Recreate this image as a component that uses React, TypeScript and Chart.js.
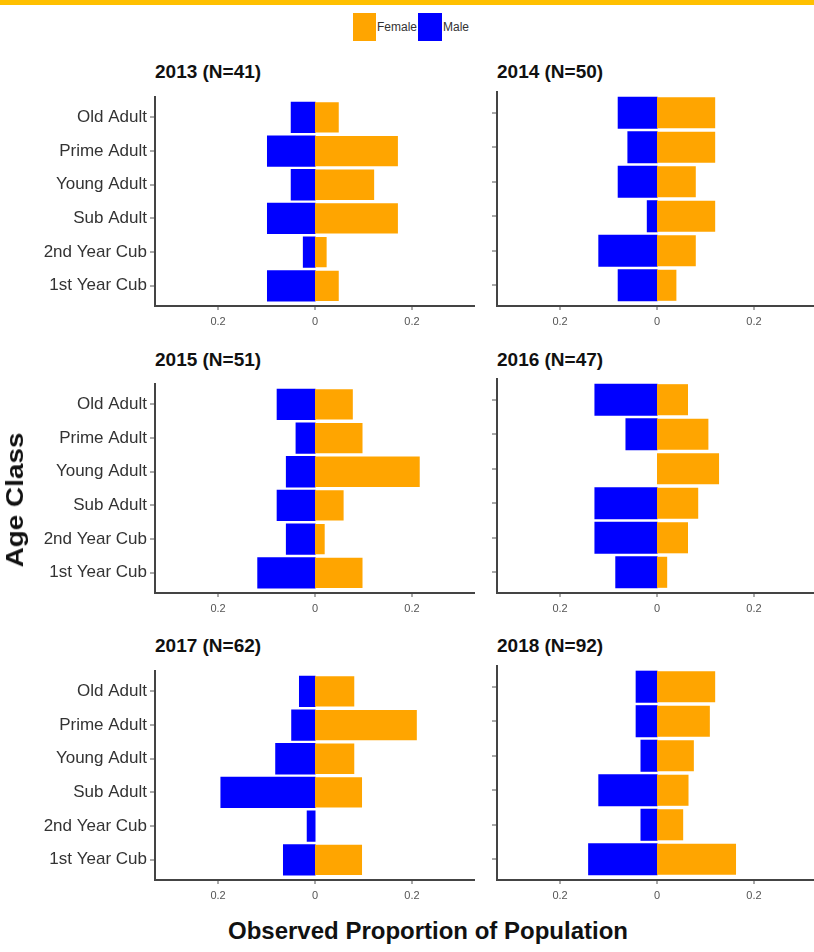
import React, { useEffect, useRef } from "react";
import { Chart, registerables } from "chart.js";

Chart.register(...registerables);

// ---------- DATA ----------
// Age classes listed from bottom (index 1) to top (index 6)
const ageClasses = ["1st Year Cub", "2nd Year Cub", "Sub Adult", "Young Adult", "Prime Adult", "Old Adult"];
const panelTitles = ["2013 (N=41)", "2014 (N=50)", "2015 (N=51)", "2016 (N=47)", "2017 (N=62)", "2018 (N=92)"];
const seriesNames = ["Female", "Male"];
const xTickValues = [-0.2, 0, 0.2];

const female2013 = [0.049, 0.024, 0.171, 0.122, 0.171, 0.049];
const male2013 = [0.098, 0.024, 0.098, 0.049, 0.098, 0.049];
const female2014 = [0.04, 0.08, 0.12, 0.08, 0.12, 0.12];
const male2014 = [0.08, 0.12, 0.02, 0.08, 0.06, 0.08];
const female2015 = [0.098, 0.02, 0.059, 0.216, 0.098, 0.078];
const male2015 = [0.118, 0.059, 0.078, 0.059, 0.039, 0.078];
const female2016 = [0.021, 0.064, 0.085, 0.128, 0.106, 0.064];
const male2016 = [0.085, 0.128, 0.128, 0, 0.064, 0.128];
const female2017 = [0.097, 0, 0.097, 0.081, 0.21, 0.081];
const male2017 = [0.065, 0.016, 0.194, 0.081, 0.048, 0.032];
const female2018 = [0.163, 0.054, 0.065, 0.076, 0.109, 0.12];
const male2018 = [0.141, 0.033, 0.12, 0.033, 0.043, 0.043];

const femaleByPanel = [female2013, female2014, female2015, female2016, female2017, female2018];
const maleByPanel = [male2013, male2014, male2015, male2016, male2017, male2018];

// ---------- STYLE ----------
const FEMALE_COLOR = "#FFA500";
const MALE_COLOR = "#0000FF";
const FONT = "'Liberation Sans', Arial, Helvetica, sans-serif";
const AXIS_COLOR = "#444444";
const TICK_COLOR = "#555555";

type PanelProps = {
  female: number[];
  male: number[];
  showLabels: boolean;
  left: number;
  top: number;
  width: number;
  axisWidth: number;
  padRight: number;
};

const CANVAS_H = 252;

function Panel({ female, male, showLabels, left, top, width, axisWidth, padRight }: PanelProps) {
  const ref = useRef<HTMLCanvasElement>(null);
  useEffect(() => {
    if (!ref.current) return;
    const chart = new Chart(ref.current, {
      type: "bar",
      data: {
        datasets: [
          {
            label: seriesNames[0],
            data: female.map((v, i) => ({ x: v, y: i + 1 })),
            backgroundColor: FEMALE_COLOR,
            borderWidth: 0,
            inflateAmount: 0,
            grouped: false,
            barPercentage: 0.9,
            categoryPercentage: 1,
          } as any,
          {
            label: seriesNames[1],
            data: male.map((v, i) => ({ x: -v, y: i + 1 })),
            backgroundColor: MALE_COLOR,
            borderWidth: 0,
            inflateAmount: (c: any) => (c.raw && c.raw.x !== 0 ? 0.5 : 0),
            grouped: false,
            barPercentage: 0.9,
            categoryPercentage: 1,
          } as any,
        ],
      },
      options: {
        indexAxis: "y",
        responsive: false,
        maintainAspectRatio: false,
        animation: false,
        layout: { padding: { top: 8, right: padRight, bottom: 0, left: 0 } },
        plugins: { legend: { display: false }, tooltip: { enabled: false }, title: { display: false } },
        scales: {
          x: {
            type: "linear",
            min: -0.33,
            max: 0.33,
            afterBuildTicks: (s: any) => {
              s.ticks = xTickValues.map((v) => ({ value: v }));
            },
            afterFit: (s: any) => {
              s.height = 30;
            },
            ticks: {
              callback: (v: any) => String(Math.abs(Number(v))),
              color: TICK_COLOR,
              font: { size: 11, family: FONT },
              padding: 5,
              maxRotation: 0,
              autoSkip: false,
            },
            grid: {
              display: true,
              drawOnChartArea: false,
              drawTicks: true,
              lineWidth: 0,
              tickLength: 4,
              tickColor: TICK_COLOR,
              tickWidth: 1,
            },
            border: { display: true, color: AXIS_COLOR, width: 2 },
          },
          y: {
            type: "linear",
            min: 0.4,
            max: 6.6,
            offset: false,
            afterBuildTicks: (s: any) => {
              s.ticks = ageClasses.map((_, i) => ({ value: i + 1 }));
            },
            afterFit: (s: any) => {
              s.width = axisWidth;
            },
            ticks: {
              display: showLabels,
              callback: (v: any) => ageClasses[Math.round(Number(v)) - 1],
              color: "#333333",
              font: { size: 17, family: FONT },
              padding: 3,
              autoSkip: false,
            },
            grid: {
              display: true,
              offset: false,
              drawOnChartArea: false,
              drawTicks: true,
              lineWidth: 0,
              tickLength: 5,
              tickColor: TICK_COLOR,
              tickWidth: 1,
            },
            border: { display: true, color: AXIS_COLOR, width: 2 },
          },
        },
      } as any,
    });
    return () => chart.destroy();
  }, []);
  return (
    <canvas
      ref={ref}
      width={width}
      height={CANVAS_H}
      style={{ position: "absolute", left, top, width, height: CANVAS_H }}
    />
  );
}

const rowPlotTops = [92, 379, 666];
const rowTitleCenters = [72, 360, 646];

export default function App() {
  return (
    <div
      style={{
        position: "fixed",
        left: 0,
        top: 0,
        width: 814,
        height: 952,
        overflow: "hidden",
        background: "#ffffff",
        fontFamily: FONT,
      }}
    >
      <div style={{ position: "absolute", left: 0, top: 0, width: 814, height: 5, background: "#FFC000" }} />

      {/* Legend */}
      <div style={{ position: "absolute", left: 353, top: 13, height: 28, display: "flex", alignItems: "center" }}>
        <div style={{ width: 23, height: 28, background: FEMALE_COLOR }} />
        <span style={{ fontSize: 12, color: "#333", padding: "0 1px" }}>{seriesNames[0]}</span>
        <div style={{ width: 24, height: 28, background: MALE_COLOR }} />
        <span style={{ fontSize: 12, color: "#333", padding: "0 1px" }}>{seriesNames[1]}</span>
      </div>

      {panelTitles.map((t, k) => {
        const row = Math.floor(k / 2);
        const col = k % 2;
        return (
          <div
            key={"t" + k}
            style={{
              position: "absolute",
              left: col === 0 ? 155 : 497,
              top: rowTitleCenters[row] - 11,
              height: 22,
              lineHeight: "22px",
              fontSize: 19,
              fontWeight: "bold",
              color: "#111",
              whiteSpace: "nowrap",
            }}
          >
            {t}
          </div>
        );
      })}

      {panelTitles.map((_, k) => {
        const row = Math.floor(k / 2);
        const col = k % 2;
        return (
          <Panel
            key={"p" + k}
            female={femaleByPanel[k]}
            male={maleByPanel[k]}
            showLabels={col === 0}
            left={col === 0 ? 0 : 480}
            top={rowPlotTops[row] - 8}
            width={col === 0 ? 480 : 340}
            axisWidth={col === 0 ? 155 : 17}
            padRight={col === 0 ? 5 : 3}
          />
        );
      })}

      <div
        style={{
          position: "absolute",
          left: 15,
          top: 500,
          transform: "translate(-50%, -50%) rotate(-90deg) scaleX(1.16)",
          fontSize: 24,
          fontWeight: "bold",
          color: "#111",
          whiteSpace: "nowrap",
        }}
      >
        Age Class
      </div>

      <div
        style={{
          position: "absolute",
          left: 428,
          top: 931,
          transform: "translate(-50%, -50%)",
          fontSize: 24,
          fontWeight: "bold",
          color: "#111",
          whiteSpace: "nowrap",
        }}
      >
        Observed Proportion of Population
      </div>
    </div>
  );
}
